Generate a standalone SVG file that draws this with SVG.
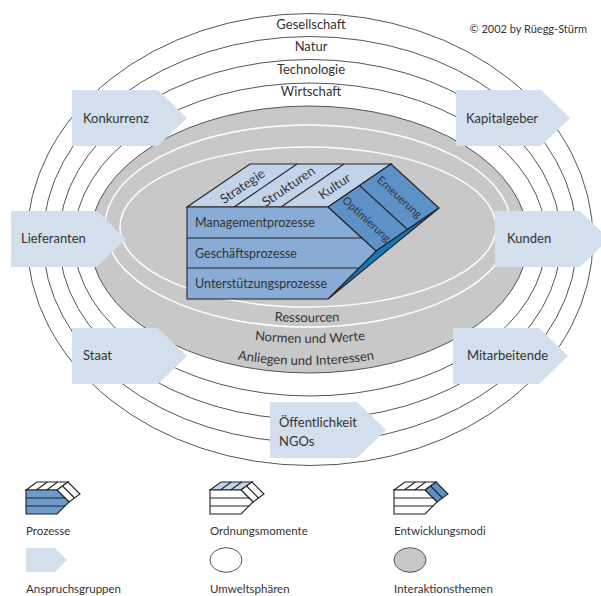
<svg xmlns="http://www.w3.org/2000/svg" width="601" height="596" viewBox="0 0 601 596">
<style>
.ring{fill:#fff;stroke:#555;stroke-width:1}
.wline{fill:none;stroke:#fff;stroke-width:1.5}
.arrow{fill:#d3dfec}
.lbl{font-family:Lato,"Liberation Sans",sans-serif;font-size:13px;fill:#333}
.sm{font-size:11px}
.leg{font-size:11.5px}
.row{font-size:12.5px}
.edge{fill:none;stroke:#222;stroke-width:1.1}
.fr{stroke:#222;stroke-width:1.1}
</style>
<defs>
<path id="pRes" d="M187 311.6 A700 700 0 0 0 427 311.6"/>
<path id="pNor" d="M160 320 A500 500 0 0 0 460 320"/>
<path id="pAnl" d="M156 337.3 A420 420 0 0 0 456 337.3"/>
</defs>
<rect width="601" height="596" fill="#fff"/>

<g id="spheres">
<ellipse class="ring" cx="310" cy="239.5" rx="283" ry="226"/>
<ellipse class="ring" cx="310" cy="239.5" rx="267" ry="203"/>
<ellipse class="ring" cx="310" cy="239.5" rx="251" ry="180"/>
<ellipse class="ring" cx="310" cy="239.5" rx="236" ry="156.5"/>
<ellipse cx="309" cy="239.5" rx="219" ry="133.5" fill="#c8c8c8" stroke="#555" stroke-width="1"/>
<ellipse class="wline" cx="308" cy="226" rx="203" ry="101"/>
<ellipse class="wline" cx="308" cy="227" rx="188" ry="80"/>
<text class="lbl" x="311" y="29" text-anchor="middle">Gesellschaft</text>
<text class="lbl" x="311" y="51" text-anchor="middle">Natur</text>
<text class="lbl" x="311" y="74" text-anchor="middle">Technologie</text>
<text class="lbl" x="311" y="96" text-anchor="middle">Wirtschaft</text>
<text class="lbl"><textPath href="#pRes" startOffset="50%" text-anchor="middle">Ressourcen</textPath></text>
<text class="lbl"><textPath href="#pNor" startOffset="50%" text-anchor="middle">Normen und Werte</textPath></text>
<text class="lbl"><textPath href="#pAnl" startOffset="50%" text-anchor="middle">Anliegen und Interessen</textPath></text>
</g>

<text class="lbl sm" x="587" y="33" text-anchor="end">© 2002 by Rüegg-Stürm</text>

<g id="konkurrenz"><polygon class="arrow" points="72,90 158,90 187,118 158,146 72,146"/><text class="lbl" x="83" y="123">Konkurrenz</text></g>
<g id="kapitalgeber"><polygon class="arrow" points="456,90 541,90 570,118 541,146 456,146"/><text class="lbl" x="466" y="123">Kapitalgeber</text></g>
<g id="lieferanten"><polygon class="arrow" points="11,211 97,211 126,239 97,267 11,267"/><text class="lbl" x="21" y="243">Lieferanten</text></g>
<g id="kunden"><polygon class="arrow" points="495,211 580,211 609,239 580,267 495,267"/><text class="lbl" x="507" y="243">Kunden</text></g>
<g id="staat"><polygon class="arrow" points="72,328 158,328 187,356 158,384 72,384"/><text class="lbl" x="83" y="360">Staat</text></g>
<g id="mitarbeitende"><polygon class="arrow" points="453,328 539,328 568,356 539,384 453,384"/><text class="lbl" x="467" y="360">Mitarbeitende</text></g>
<g id="oeffentlichkeit"><polygon class="arrow" points="270,402 357,402 386,430 357,458 270,458"/><text class="lbl" x="279" y="427">Öffentlichkeit</text><text class="lbl" x="279" y="446">NGOs</text></g>

<g id="cube">
<polygon class="fr" points="187,207 328,207 391,164 250,164" fill="#c3d4ea"/>
<line class="edge" x1="234" y1="207" x2="297" y2="164"/>
<line class="edge" x1="281" y1="207" x2="344" y2="164"/>
<polygon class="fr" points="328,207 391,164 439,208 376,251" fill="#5d92c8"/>
<line class="edge" x1="359.5" y1="185.5" x2="407.5" y2="229.5"/>
<polygon class="fr" points="376,251 439,208 328,299" fill="#1677bd"/>
<polygon class="fr" points="187,207 328,207 376,251 328,299 187,299" fill="#88acd6"/>
<line class="edge" x1="187" y1="238" x2="361.8" y2="238"/>
<line class="edge" x1="187" y1="268" x2="359" y2="268"/>
<text class="lbl row" x="195" y="227">Managementprozesse</text>
<text class="lbl row" x="195" y="258">Geschäftsprozesse</text>
<text class="lbl row" x="195" y="288">Unterstützungsprozesse</text>
<text class="lbl" font-size="12" text-anchor="middle" transform="translate(245,190) rotate(-34.3)">Strategie</text>
<text class="lbl" font-size="12" text-anchor="middle" transform="translate(291,190) rotate(-34.3)">Strukturen</text>
<text class="lbl" font-size="12" text-anchor="middle" transform="translate(337,190) rotate(-34.3)">Kultur</text>
<text class="lbl sm" text-anchor="middle" transform="translate(364,222) rotate(42.5)">Optimierung</text>
<text class="lbl sm" text-anchor="middle" transform="translate(397,200) rotate(42.5)">Erneuerung</text>
</g>

<g id="legend-prozesse" transform="translate(26,490)">
<polygon class="fr" points="0,0 31,0 42,-8 11,-8" fill="#fff"/>
<line class="edge" x1="10.3" y1="0" x2="21.3" y2="-8"/><line class="edge" x1="20.7" y1="0" x2="31.7" y2="-8"/>
<polygon class="fr" points="31,0 42,-8 54,4 43,12" fill="#fff"/>
<line class="edge" x1="36.5" y1="-4" x2="48.5" y2="8"/>
<polygon class="fr" points="0,0 31,0 43,12 31,24 0,24" fill="#6e9bcb"/>
<line class="edge" x1="0" y1="8" x2="39.7" y2="8"/><line class="edge" x1="0" y1="16" x2="39" y2="16"/>
</g>
<text class="lbl leg" x="26" y="535">Prozesse</text>

<g id="legend-ordnung" transform="translate(210,490)">
<polygon class="fr" points="0,0 31,0 42,-8 11,-8" fill="#c3d4ea"/>
<line class="edge" x1="10.3" y1="0" x2="21.3" y2="-8"/><line class="edge" x1="20.7" y1="0" x2="31.7" y2="-8"/>
<polygon class="fr" points="31,0 42,-8 54,4 43,12" fill="#fff"/>
<line class="edge" x1="36.5" y1="-4" x2="48.5" y2="8"/>
<polygon class="fr" points="0,0 31,0 43,12 31,24 0,24" fill="#fff"/>
<line class="edge" x1="0" y1="8" x2="39.7" y2="8"/><line class="edge" x1="0" y1="16" x2="39" y2="16"/>
</g>
<text class="lbl leg" x="210" y="535">Ordnungsmomente</text>

<g id="legend-entwicklung" transform="translate(394,490)">
<polygon class="fr" points="0,0 31,0 42,-8 11,-8" fill="#fff"/>
<line class="edge" x1="10.3" y1="0" x2="21.3" y2="-8"/><line class="edge" x1="20.7" y1="0" x2="31.7" y2="-8"/>
<polygon class="fr" points="31,0 42,-8 54,4 43,12" fill="#5d92c8"/>
<line class="edge" x1="36.5" y1="-4" x2="48.5" y2="8"/>
<polygon class="fr" points="0,0 31,0 43,12 31,24 0,24" fill="#fff"/>
<line class="edge" x1="0" y1="8" x2="39.7" y2="8"/><line class="edge" x1="0" y1="16" x2="39" y2="16"/>
</g>
<text class="lbl leg" x="394" y="535">Entwicklungsmodi</text>

<g id="legend-anspruch"><polygon class="arrow" points="26,548 55,548 67,560 55,572 26,572"/></g>
<text class="lbl leg" x="26" y="593">Anspruchsgruppen</text>
<g id="legend-umwelt"><ellipse cx="226" cy="560" rx="16" ry="12.3" fill="#fff" stroke="#555"/></g>
<text class="lbl leg" x="210" y="593">Umweltsphären</text>
<g id="legend-interaktion"><ellipse cx="410" cy="560" rx="16" ry="12.3" fill="#c8c8c8" stroke="#555"/></g>
<text class="lbl leg" x="394" y="593">Interaktionsthemen</text>
</svg>
